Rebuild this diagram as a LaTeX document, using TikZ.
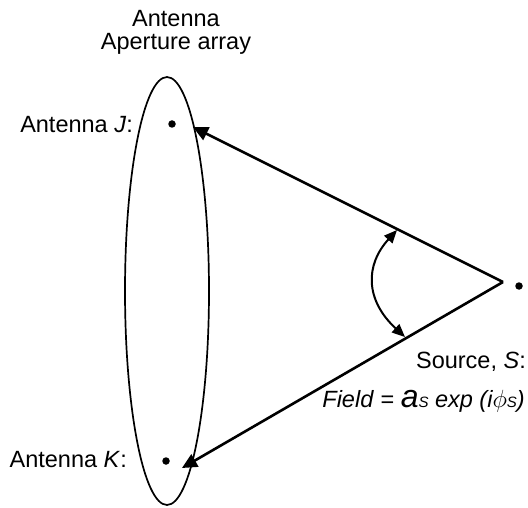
\documentclass[tikz,border=0pt]{standalone}
\usepackage{fontspec}
\setmainfont{Liberation Sans}
\usetikzlibrary{arrows.meta}
\begin{document}
\begin{tikzpicture}[x=1pt,y=-1pt,
  lbl/.style={font=\fontsize{23.5}{23.5}\selectfont, inner sep=0pt},
  sub/.style={},
  dot/.style={circle, fill=black, inner sep=0pt, minimum size=7.5pt},
  ray/.style={line width=2.6pt, -{Triangle[length=15pt,width=14pt]}},
  angarrow/.style={line width=2pt, {Triangle[length=13pt,width=11pt]}-{Triangle[length=13pt,width=11pt]}},
  ap/.style={line width=1.7pt}]
\useasboundingbox (0,0) rectangle (528,508);
% aperture
\draw[ap] (167,291) ellipse [x radius=42pt, y radius=214pt];
\node[lbl, align=center, anchor=north] (title) at (176,10) {Antenna\\Aperture array};
% antennas
\node[dot] (J) at (172,124) {};
\node[dot] (K) at (166,461) {};
\node[lbl, anchor=base east] (Jlbl) at (133,133) {Antenna \textit{J}:};
\node[lbl, anchor=base east] (Klbl) at (127,467) {Antenna \textit{K}:};
% source
\coordinate (apex) at (503,282);
\node[dot] (S) at (519,286) {};
\coordinate (Jtip) at (193,127);
\coordinate (Ktip) at (182,468);
\draw[ray] (apex) -- (Jtip);
\draw[ray] (apex) -- (Ktip);
% angle
\coordinate (a1) at (397,230);
\coordinate (a2) at (405,337);
\draw[angarrow] (a1) .. controls (365,265) and (365,300) .. (a2);
\node[lbl, anchor=base east] (Slbl) at (526,368) {Source, \textit{S}:};
\node[lbl, anchor=base east] (field) at (525,407) {\textit{Field} = {\fontsize{32}{32}\selectfont\itshape a}{\fontsize{15}{15}\selectfont\itshape S} {\itshape exp (i}{\fontsize{27}{27}\selectfont$\phi$}{\fontsize{15}{15}\selectfont\itshape S}{\itshape )}};
\end{tikzpicture}
\end{document}
